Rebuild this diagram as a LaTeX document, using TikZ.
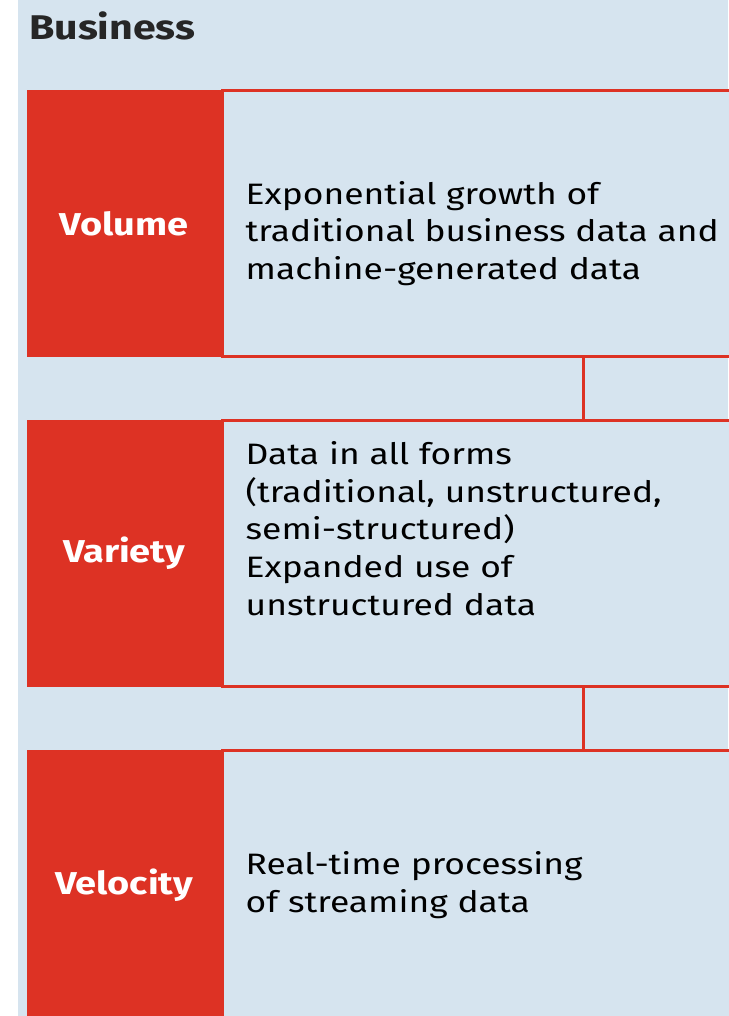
\documentclass[tikz,border=0pt]{standalone}
\usepackage{fontspec}
\setmainfont{Fira Sans}[FakeStretch=1.2]
\usepackage{tikz}
\usetikzlibrary{positioning}
\definecolor{bizred}{RGB}{221,50,36}
\definecolor{bizblue}{RGB}{214,228,239}

\begin{document}
\begin{tikzpicture}[
    x=0.02cm, y=-0.02cm,
    vlabel/.style={fill=bizred, text=white, inner sep=0,
        minimum width=3.88cm, minimum height=5.34cm,
        font=\fontsize{18}{21}\selectfont\bfseries},
    vdesc/.style={fill=bizblue, draw=bizred, line width=0.06cm,
        minimum width=10.5cm, minimum height=5.34cm, inner sep=0},
    dtext/.style={text width=10cm, inner sep=0, align=left,
        font=\fontsize{16.8}{21.5}\selectfont},
    link/.style={draw=bizred, line width=0.06cm}
]
% page and background
\useasboundingbox (0,0) rectangle (728,1016);
\fill[white] (0,0) rectangle (728,1016);
\fill[bizblue] (18,0) rectangle (728,1016);

\node[anchor=base west, font=\fontsize{19.5}{23}\selectfont\bfseries, text=black!85] (title) at (23,40) {Business};

% volume
\node[vlabel] (vol) at (124,223.5) {Volume};
\node[vdesc, right=0pt of vol] (volD) {};
\node[dtext, right=0.48cm of volD.west, yshift=-0.2cm] (volT) {Exponential growth of\\traditional business data and\\machine-generated data};

% variety
\node[vlabel] (var) at (124,553.5) {Variety};
\node[vdesc, right=0pt of var] (varD) {};
\node[dtext, right=0.48cm of varD.west, yshift=0.5cm] (varT) {Data in all forms\\(traditional, unstructured,\\semi-structured)\\Expanded use of\\unstructured data};

% velocity
\node[vlabel, minimum height=5.4cm] (vel) at (124,885) {Velocity};
\node[vdesc, right=0pt of vel, minimum height=5.4cm] (velD) {};
\node[dtext, right=0.48cm of velD.west] (velT) {Real-time processing\\of streaming data};

% connectors
\coordinate (cx) at (583,0);
\draw[link] (volD.south -| cx) -- (varD.north -| cx);
\draw[link] (varD.south -| cx) -- (velD.north -| cx);
\end{tikzpicture}
\end{document}
